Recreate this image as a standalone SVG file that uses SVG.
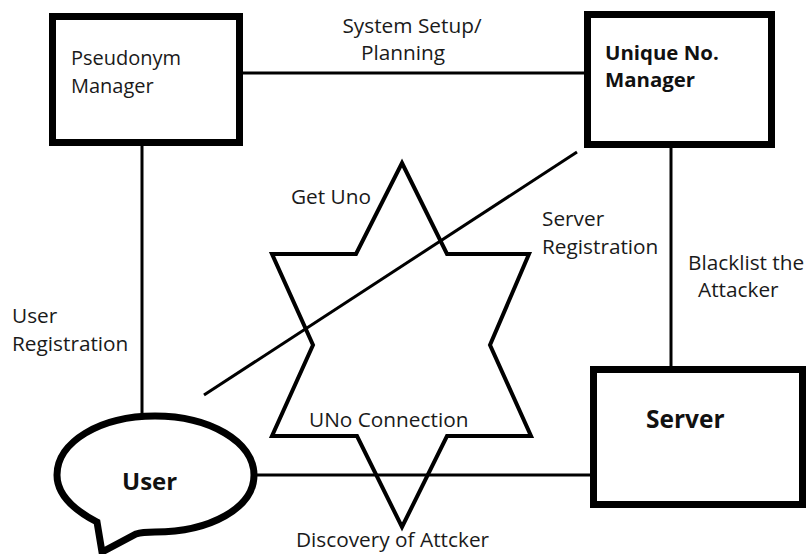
<svg xmlns="http://www.w3.org/2000/svg" width="808" height="554" viewBox="0 0 808 554">
  <style>
    .box { fill: #ffffff; stroke: #000000; stroke-width: 7; }
    .link { fill: none; stroke: #000000; stroke-width: 3; }
    .star { fill: none; stroke: #000000; stroke-width: 4; stroke-linejoin: miter; }
    .lbl { font-family: "Open Sans", "Noto Sans", sans-serif; font-size: 20.8px; fill: #1a1a1a; }
    .name { font-family: "Open Sans", "Noto Sans", sans-serif; font-size: 20px; fill: #1a1a1a; }
    .bold { font-family: "Open Sans", "Noto Sans", sans-serif; font-weight: bold; fill: #111111; }
  </style>

  <!-- connectors -->
  <g id="connectors">
    <line class="link" x1="243" y1="73" x2="584" y2="73"/>
    <line class="link" x1="142" y1="145" x2="142" y2="414"/>
    <line class="link" x1="671" y1="148" x2="671" y2="377"/>
    <line class="link" x1="256" y1="475" x2="590" y2="475"/>
    <line class="link" x1="204" y1="395" x2="577" y2="152"/>
    <polygon class="star" points="402,163 447,254 529,254 490,345 531,436 447,436 402,527 357,436 272,436 313,345 272,254 356,254"/>
  </g>

  <!-- connector labels -->
  <g id="labels">
    <text class="lbl" x="412" y="33" text-anchor="middle">System Setup/</text>
    <text class="lbl" x="403" y="60" text-anchor="middle">Planning</text>
    <text class="lbl" x="291" y="204">Get Uno</text>
    <text class="lbl" x="542" y="226">Server</text>
    <text class="lbl" x="542" y="254">Registration</text>
    <text class="lbl" x="688" y="270">Blacklist the</text>
    <text class="lbl" x="698" y="297">Attacker</text>
    <text class="lbl" x="12" y="323">User</text>
    <text class="lbl" x="12" y="351">Registration</text>
    <text class="lbl" x="309" y="427">UNo Connection</text>
    <text class="lbl" x="296" y="547">Discovery of Attcker</text>
  </g>

  <g id="pseudonym-manager">
    <rect class="box" x="52.5" y="16.5" width="187" height="126"/>
    <text class="name" x="71" y="65">Pseudonym</text>
    <text class="name" x="71" y="93">Manager</text>
  </g>

  <g id="unique-no-manager">
    <rect class="box" x="587.5" y="14.5" width="184" height="130"/>
    <text class="bold" x="605" y="60" font-size="20.4">Unique No.</text>
    <text class="bold" x="605" y="87" font-size="20.4">Manager</text>
  </g>

  <g id="server">
    <rect class="box" x="593.5" y="369.5" width="209" height="135"/>
    <text class="bold" x="646" y="428" font-size="24.5">Server</text>
  </g>

  <g id="user">
    <path class="box" stroke-width="6" d="M 97,522 C 70,508 57,492 57,475 C 57,442 100,416 155,416 C 210,416 254,442 254,475 C 254,508 210,532 155,532 C 148,532 142,532 136,534 L 102,552 Z"/>
    <text class="bold" x="122" y="490" font-size="24">User</text>
  </g>
</svg>
